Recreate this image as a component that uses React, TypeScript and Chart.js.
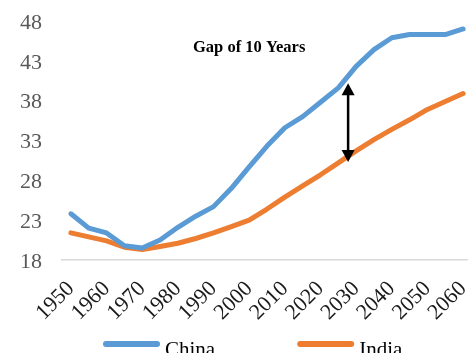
import React, { useEffect, useRef } from "react";
import { Chart, registerables } from "chart.js";

Chart.register(...registerables);

// Median age by year, every five years
const years = [
  "1950", "1955", "1960", "1965", "1970", "1975", "1980", "1985", "1990", "1995", "2000", "2005",
  "2010", "2015", "2020", "2025", "2030", "2035", "2040", "2045", "2050", "2055", "2060",
];
const china = [
  23.8, 22.0, 21.4, 19.8, 19.5, 20.5, 22.1, 23.5, 24.7, 27.0, 29.7, 32.3,
  34.6, 36.0, 37.8, 39.6, 42.3, 44.4, 45.9, 46.3, 46.3, 46.3, 47.0,
];
const india = [
  21.4, 20.9, 20.4, 19.6, 19.3, 19.7, 20.1, 20.7, 21.4, 22.2, 23.0, 24.4,
  25.9, 27.3, 28.7, 30.2, 31.7, 33.1, 34.4, 35.6, 36.9, 37.9, 38.9,
];
const yMin = 18;
const yMax = 48;
const yStep = 5;

// Annotation: vertical gap arrow and its caption
const gapLabel = "Gap of 10 Years";
const gapYear = 2027.75;
const gapTop = 40.2;
const gapBottom = 30.3;
const captionYear = 2000;
const captionValue = 44.6;

const BLUE = "#5B9BD5";
const ORANGE = "#ED7D31";
const SERIF = '"Liberation Serif", "Times New Roman", serif';

const yearIndex = (yr: number) => (yr - Number(years[0])) / 5;

// keep the plot area fixed: tick labels may overflow it
const noScalePadding = (s: any) => {
  s.paddingTop = 0;
  s.paddingBottom = 0;
  s.paddingLeft = 0;
  s.paddingRight = 0;
};

const gapNote = {
  id: "gapNote",
  afterDatasetsDraw(chart: any) {
    const { ctx, scales } = chart;
    const x = scales.x;
    const y = scales.y;
    ctx.save();

    // double-headed arrow
    const ax = x.getPixelForValue(yearIndex(gapYear));
    const yTop = y.getPixelForValue(gapTop);
    const yBot = y.getPixelForValue(gapBottom);
    const head = 12;
    const hw = 6.5;
    ctx.strokeStyle = "#000";
    ctx.fillStyle = "#000";
    ctx.lineWidth = 2.5;
    ctx.beginPath();
    ctx.moveTo(ax, yTop + head - 1);
    ctx.lineTo(ax, yBot - head + 1);
    ctx.stroke();
    ctx.beginPath();
    ctx.moveTo(ax, yTop);
    ctx.lineTo(ax - hw, yTop + head);
    ctx.lineTo(ax + hw, yTop + head);
    ctx.closePath();
    ctx.fill();
    ctx.beginPath();
    ctx.moveTo(ax, yBot);
    ctx.lineTo(ax - hw, yBot - head);
    ctx.lineTo(ax + hw, yBot - head);
    ctx.closePath();
    ctx.fill();

    // caption
    ctx.font = `bold 16.5px ${SERIF}`;
    ctx.textAlign = "center";
    ctx.textBaseline = "middle";
    ctx.fillText(gapLabel, x.getPixelForValue(yearIndex(captionYear)), y.getPixelForValue(captionValue));
    ctx.restore();
  },
};

// Legend drawn as thick rounded line samples followed by the series name
const lineLegend = {
  id: "lineLegend",
  afterDraw(chart: any) {
    const { ctx } = chart;
    const cy = 344;
    const sample = 57;
    const itemGap = 82;
    let cx = 103;
    ctx.save();
    ctx.font = `21px ${SERIF}`;
    ctx.textBaseline = "middle";
    ctx.textAlign = "left";
    chart.data.datasets.forEach((ds: any) => {
      ctx.strokeStyle = ds.borderColor;
      ctx.lineWidth = 6;
      ctx.lineCap = "round";
      ctx.beginPath();
      ctx.moveTo(cx + 3, cy);
      ctx.lineTo(cx + sample - 3, cy);
      ctx.stroke();
      ctx.fillStyle = "#000";
      const tx = cx + sample + 5;
      ctx.fillText(ds.label, tx, cy + 6);
      cx = tx + ctx.measureText(ds.label).width + itemGap;
    });
    ctx.restore();
  },
};

export default function App() {
  const canvasRef = useRef<HTMLCanvasElement | null>(null);

  useEffect(() => {
    const canvas = canvasRef.current;
    if (!canvas) return;
    const chart = new Chart(canvas, {
      type: "line",
      data: {
        labels: years,
        datasets: [
          {
            label: "China",
            data: china,
            borderColor: BLUE,
            backgroundColor: BLUE,
            borderWidth: 5,
            pointRadius: 0,
            tension: 0,
            borderCapStyle: "round",
            borderJoinStyle: "round",
          },
          {
            label: "India",
            data: india,
            borderColor: ORANGE,
            backgroundColor: ORANGE,
            borderWidth: 5,
            pointRadius: 0,
            tension: 0,
            borderCapStyle: "round",
            borderJoinStyle: "round",
          },
        ],
      },
      options: {
        responsive: false,
        animation: false,
        events: [],
        layout: { padding: { top: 21, left: 0, right: 0, bottom: 31 } },
        plugins: {
          legend: { display: false },
          tooltip: { enabled: false },
          title: { display: false },
        },
        scales: {
          x: {
            type: "category",
            offset: true,
            grid: { display: false, drawTicks: false },
            border: { display: true, color: "#d9d9d9", width: 1.5 },
            ticks: {
              autoSkip: false,
              minRotation: 45,
              maxRotation: 45,
              padding: 16,
              color: "#1a1a1a",
              font: { family: SERIF, size: 22 },
              callback: function (this: any, val: any, idx: number) {
                return idx % 2 === 0 ? this.getLabelForValue(val) : "";
              },
            },
            afterFit: (s: any) => {
              s.height = 62;
              noScalePadding(s);
            },
          },
          y: {
            min: yMin,
            max: yMax,
            grid: { display: false, drawTicks: false },
            border: { display: false },
            ticks: {
              stepSize: yStep,
              padding: 20,
              labelOffset: 2,
              color: "#595959",
              font: { family: SERIF, size: 22 },
            },
            afterFit: (s: any) => {
              s.width = 62;
              noScalePadding(s);
            },
          },
        },
      },
      plugins: [gapNote, lineLegend],
    });
    return () => chart.destroy();
  }, []);

  return (
    <div
      style={{
        position: "absolute",
        left: 0,
        top: 0,
        width: 468,
        height: 353,
        overflow: "hidden",
        background: "#fff",
      }}
    >
      <canvas ref={canvasRef} width={472} height={353} style={{ width: 472, height: 353, display: "block" }} />
    </div>
  );
}
